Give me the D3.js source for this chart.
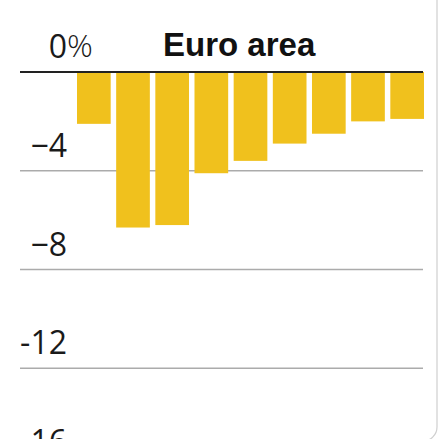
<!DOCTYPE html>
<html>
<head>
<meta charset="utf-8">
<script src="https://cdn.jsdelivr.net/npm/d3@7"></script>
<style>
  html, body { margin: 0; padding: 0; background: #fff; }
  svg { display: block; }
</style>
</head>
<body>
<svg id="chart" width="442" height="439"></svg>
<script>
// Annual change, euro area (%)
const categories = ["1", "2", "3", "4", "5", "6", "7", "8", "9"];
const values = [-2.1, -6.3, -6.2, -4.1, -3.6, -2.9, -2.5, -2.0, -1.9];
const tickValues = [0, -4, -8, -12, -16];
const tickLabels = ["0", "\u22124", "\u22128", "-12", "-16"];
const title = "Euro area";

const svg = d3.select("#chart");

const y = d3.scaleLinear().domain([0, -16]).range([72, 467]);
const x = d3.scaleBand().domain(categories).range([77, 424]).paddingInner(0.14).paddingOuter(0);

const gridLeft = 20, gridRight = 423;

// panel frame on the right
svg.append("rect")
  .attr("x", -20).attr("y", -20)
  .attr("width", 457).attr("height", 461)
  .attr("rx", 14)
  .attr("fill", "none")
  .attr("stroke", "#cfcfcf")
  .attr("stroke-width", 1.2);

// gridlines
svg.append("g")
  .selectAll("line")
  .data(tickValues.filter(d => d !== 0))
  .join("line")
  .attr("x1", gridLeft).attr("x2", gridRight)
  .attr("y1", d => y(d)).attr("y2", d => y(d))
  .attr("stroke", "#ababab")
  .attr("stroke-width", 1.5);

// bars
svg.append("g")
  .selectAll("rect")
  .data(values.map((v, i) => ({ c: categories[i], v })))
  .join("rect")
  .attr("x", d => x(d.c))
  .attr("width", x.bandwidth())
  .attr("y", d => y(Math.max(0, d.v)))
  .attr("height", d => Math.abs(y(d.v) - y(0)))
  .attr("fill", "#f0c11d");

// zero line
svg.append("line")
  .attr("x1", gridLeft).attr("x2", gridRight)
  .attr("y1", y(0)).attr("y2", y(0))
  .attr("stroke", "#222")
  .attr("stroke-width", 2.2);

// tick labels
const labelX = 67;
const labels = svg.append("g")
  .attr("font-family", "'Open Sans', 'Liberation Sans', sans-serif")
  .attr("font-weight", 400)
  .attr("font-size", 32)
  .attr("fill", "#1a1a1a");

labels.selectAll("text")
  .data(tickValues)
  .join("text")
  .attr("x", labelX)
  .attr("y", d => y(d) - 14)
  .attr("text-anchor", "end")
  .text((d, i) => tickLabels[i]);

labels.append("text")
  .attr("x", labelX)
  .attr("y", y(0) - 15)
  .attr("font-weight", 300)
  .text("%");

// title
svg.append("text")
  .attr("x", 163)
  .attr("y", y(0) - 16)
  .attr("font-family", "'Liberation Sans', Arial, sans-serif")
  .attr("font-weight", 700)
  .attr("font-size", 33)
  .attr("fill", "#111")
  .text(title);
</script>
</body>
</html>
